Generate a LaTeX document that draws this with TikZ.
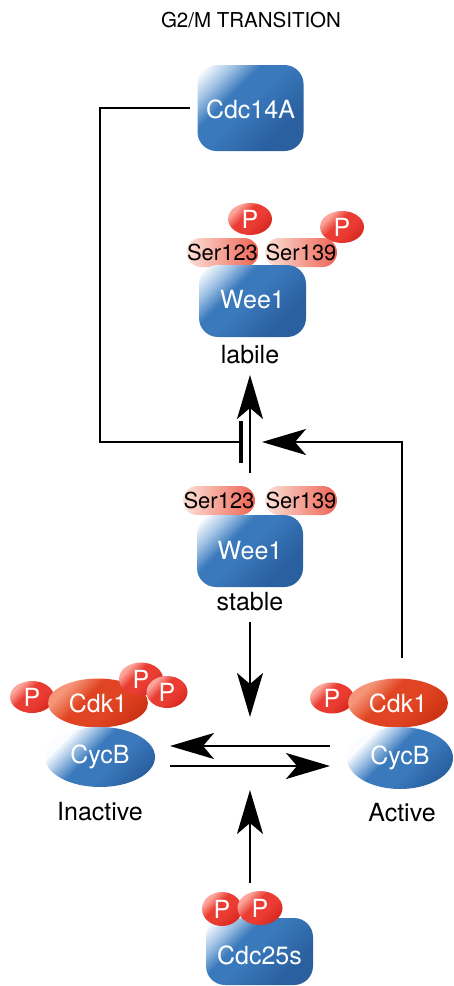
\documentclass[tikz,border=0pt]{standalone}
\usepackage{fontspec}
\setmainfont{TeX Gyre Heros}
\usetikzlibrary{arrows.meta,shapes.geometric}
\definecolor{bD}{RGB}{42,96,160}
\definecolor{bM}{RGB}{58,121,188}
\definecolor{bL}{RGB}{160,194,228}
\definecolor{bW}{RGB}{250,252,255}
\definecolor{rD}{RGB}{214,40,30}
\definecolor{rM}{RGB}{234,60,50}
\definecolor{rL}{RGB}{252,165,155}
\definecolor{kD}{RGB}{205,50,20}
\definecolor{kM}{RGB}{224,68,34}
\definecolor{kL}{RGB}{245,150,120}
\definecolor{sL}{RGB}{252,226,216}
\definecolor{sR}{RGB}{238,98,82}
\pgfdeclareverticalshading{boxsh}{100bp}{color(0bp)=(bD); color(30bp)=(bD); color(52bp)=(bM); color(62bp)=(bM); color(72bp)=(bL); color(82bp)=(bW); color(100bp)=(bW)}
\pgfdeclareverticalshading{ellsh}{100bp}{color(0bp)=(bD); color(25bp)=(bD); color(42bp)=(bM); color(55bp)=(bM); color(64bp)=(bL); color(72bp)=(bW); color(100bp)=(bW)}
\pgfdeclareverticalshading{psh}{100bp}{color(0bp)=(rD); color(25bp)=(rD); color(42bp)=(rM); color(58bp)=(rM); color(72bp)=(rL); color(100bp)=(rL)}
\pgfdeclareverticalshading{ksh}{100bp}{color(0bp)=(kD); color(25bp)=(kD); color(42bp)=(kM); color(58bp)=(kM); color(72bp)=(kL); color(100bp)=(kL)}
\tikzset{
  bluebox/.style={rectangle, rounded corners=19pt, shading=boxsh, shading angle=45, inner sep=0pt},
  boxtext/.style={text=white, font=\fontsize{25}{28}\selectfont, inner sep=0pt},
  cycb/.style={ellipse, shading=ellsh, shading angle=45, text=white, font=\fontsize{25}{28}\selectfont, inner sep=0pt},
  cdk/.style={ellipse, shading=ksh, shading angle=45, text=white, font=\fontsize{25}{28}\selectfont, inner sep=0pt, minimum width=100pt, minimum height=49pt},
  pball/.style={ellipse, shading=psh, shading angle=45, text=white, font=\fontsize{25}{28}\selectfont, inner sep=0pt, minimum width=44pt, minimum height=32pt},
  ser/.style={rectangle, rounded corners=14.5pt, left color=sL, right color=sR, text=black, font=\fontsize{22}{24}\selectfont, inner sep=0pt, minimum width=72pt, minimum height=29pt},
  lbl/.style={text=black, font=\fontsize{25}{28}\selectfont, inner sep=0pt},
  conn/.style={line width=1.8pt, black},
  arr/.style={line width=2pt, black, -{Stealth[length=44pt,width=26pt,inset=11pt]}},
}
\begin{document}
\begin{tikzpicture}[x=1pt,y=-1pt]
\useasboundingbox (0,0) rectangle (454,986);
\fill[white] (0,0) rectangle (454,986);
% title
\node[font=\fontsize{20.5}{23}\selectfont, inner sep=0pt] (title) at (251,20) {G2/M TRANSITION};
% Cdc14A
\node[bluebox, minimum width=106pt, minimum height=86pt] (cdc14) at (250.5,108) {};
\node[boxtext] (cdc14t) at (250.5,109) {Cdc14A};
% labile Wee1
\node[pball] (lp1) at (250,219) {P};
\node[pball] (lp2) at (342,227) {P};
\node[ser] (ls1) at (222.5,252.5) {Ser123};
\node[ser] (ls2) at (301,252.5) {Ser139};
\node[bluebox, minimum width=107pt, minimum height=72pt] (wl) at (252.5,301) {};
\node[boxtext] (wlt) at (252.5,300) {Wee1};
\node[lbl] (labile) at (250,355) {labile};
% stable Wee1
\node[ser] (ss1) at (219,500.5) {Ser123};
\node[ser] (ss2) at (301,500.5) {Ser139};
\node[bluebox, minimum width=106pt, minimum height=72pt] (ws) at (250,551) {};
\node[boxtext] (wst) at (250,551) {Wee1};
\node[lbl] (stable) at (250,602) {stable};
% inactive complex
\node[pball] (ip1) at (32,697) {P};
\node[cdk] (ik) at (98,703) {Cdk1};
\node[pball, minimum height=33pt] (ip2) at (141,679) {P};
\node[pball, minimum width=41pt] (ip3) at (167,692) {P};
\node[cycb, minimum width=110pt, minimum height=60pt] (ic) at (100,757) {CycB};
\node[lbl] (inactive) at (100,812) {Inactive};
% active complex
\node[pball, minimum height=31pt] (ap) at (332,698) {P};
\node[cdk] (ak) at (398,703) {Cdk1};
\node[cycb, minimum width=106pt, minimum height=62pt] (ac) at (400,758) {CycB};
\node[lbl] (active) at (402,813) {Active};
% Cdc25s
\node[bluebox, minimum width=107pt, minimum height=67pt] (c25) at (259.5,951.5) {};
\node[boxtext] (c25t) at (259.5,955) {Cdc25s};
\node[pball, minimum width=40pt, minimum height=34pt] (cp1) at (222,909) {P};
\node[pball, minimum width=45pt, minimum height=34pt] (cp2) at (260,908) {P};
% coordinates
\coordinate (corner) at (100,442);
\coordinate (barmid) at (241,442);
\coordinate (bartop) at (241,421);
\coordinate (barbot) at (241,463);
\coordinate (ua0) at (250,473);
\coordinate (ua1) at (250,375);
\coordinate (ra0) at (402,658);
\coordinate (ra1) at (262,442);
\coordinate (da0) at (250,622);
\coordinate (da1) at (250,717);
\coordinate (h1a) at (330,746);
\coordinate (h1b) at (170,746);
\coordinate (h2a) at (170,766);
\coordinate (h2b) at (330,766);
\coordinate (ub0) at (250,883);
\coordinate (ub1) at (250,790);
% connectors
\draw[conn] ([xshift=-7pt]cdc14.west) -| (corner) -- (barmid);
\draw[line width=4pt] (bartop) -- (barbot);
\draw[arr] (ua0) -- (ua1);
\draw[arr] (ra0) |- (ra1);
\draw[arr] (da0) -- (da1);
\draw[arr] (h1a) -- (h1b);
\draw[arr] (h2a) -- (h2b);
\draw[arr] (ub0) -- (ub1);
\end{tikzpicture}
\end{document}
